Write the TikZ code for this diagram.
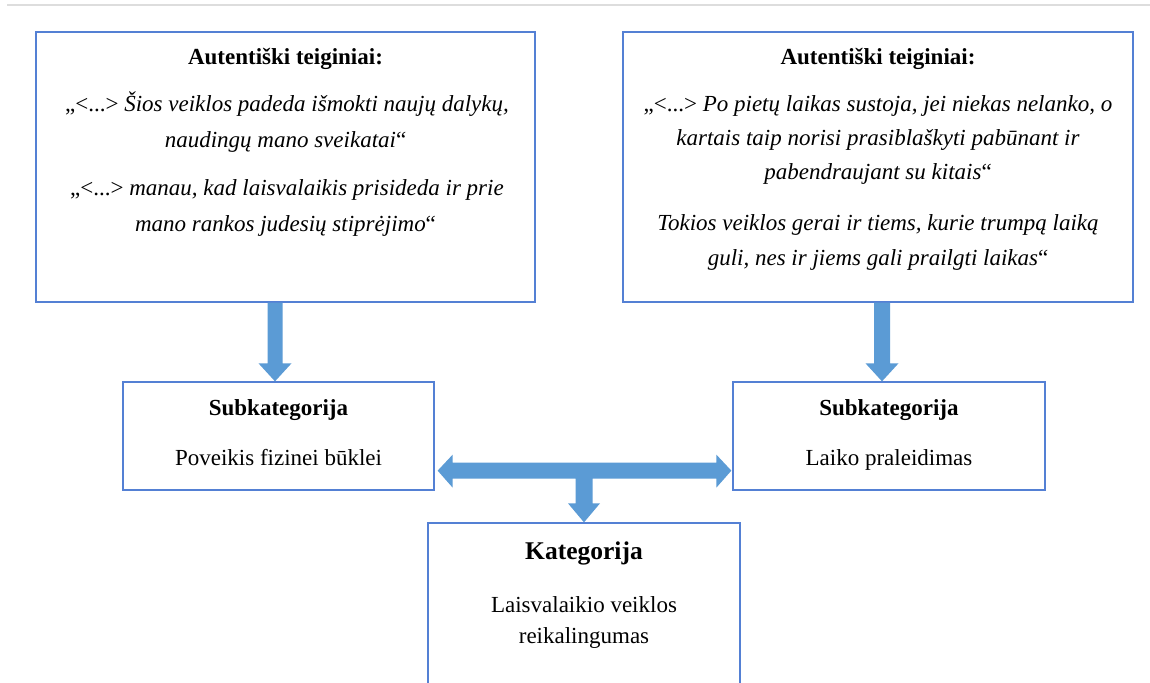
\documentclass[tikz,border=0pt]{standalone}
\usepackage{fontspec}
\setmainfont{Liberation Serif}
\usetikzlibrary{calc}
\definecolor{boxblue}{RGB}{84,128,212}
\definecolor{arrblue}{RGB}{91,155,213}
\definecolor{rulegray}{RGB}{221,221,221}
\tikzset{
  box/.style={draw=boxblue, line width=1.3pt, fill=white, inner sep=0pt, rectangle},
  txt/.style={anchor=base, inner sep=0pt, font=\fontsize{23}{27}\selectfont},
  ttl/.style={txt, font=\fontsize{23}{27}\selectfont\bfseries},
  bigttl/.style={txt, font=\fontsize{25.5}{30}\selectfont\bfseries},
  arr/.style={fill=arrblue, draw=none}
}
\begin{document}
\begin{tikzpicture}[x=1pt, y=-1pt]
\path[use as bounding box, clip] (0,0) rectangle (1150,682);
\fill[white] (0,0) rectangle (1150,682);
\draw[rulegray, line width=2pt] (7,5) -- (1150,5);

% boxes
\node[box, minimum width=499pt, minimum height=270pt] (lt) at (285.5,167) {};
\node[box, minimum width=510pt, minimum height=270pt] (rt) at (878,167) {};
\node[box, minimum width=311pt, minimum height=108pt] (ls) at (278.5,436) {};
\node[box, minimum width=312pt, minimum height=108pt] (rs) at (889,436) {};
\node[box, minimum width=312pt, minimum height=200pt] (kat) at (584,623) {};

% left top text
\node[ttl] (lt0) at (285.5,65) {Autentiški teiginiai:};
\node[txt] (lt1) at (287,111) {„<...> \textit{Šios veiklos padeda išmokti naujų dalykų,}};
\node[txt] (lt2) at (285.5,147) {\textit{naudingų mano sveikatai}“};
\node[txt] (lt3) at (287,195) {„<...> \textit{manau, kad laisvalaikis prisideda ir prie}};
\node[txt] (lt4) at (285.5,231) {\textit{mano rankos judesių stiprėjimo}“};

% right top text
\node[ttl] (rt0) at (878,65) {Autentiški teiginiai:};
\node[txt] (rt1) at (878,112) {„<...> \textit{Po pietų laikas sustoja, jei niekas nelanko, o}};
\node[txt] (rt2) at (878,146) {\textit{kartais taip norisi prasiblaškyti pabūnant ir}};
\node[txt] (rt3) at (878,179) {\textit{pabendraujant su kitais}“};
\node[txt] (rt4) at (878,230) {\textit{Tokios veiklos gerai ir tiems, kurie trumpą laiką}};
\node[txt] (rt5) at (878,265) {\textit{guli, nes ir jiems gali prailgti laikas}“};

% sub boxes text
\node[ttl] (ls0) at (278.5,415) {Subkategorija};
\node[txt] (ls1) at (278.5,465) {Poveikis fizinei būklei};
\node[ttl] (rs0) at (889,415) {Subkategorija};
\node[txt] (rs1) at (889,465) {Laiko praleidimas};

% category text
\node[bigttl] (k0) at (584,559) {Kategorija};
\node[txt] (k1) at (584,612) {Laisvalaikio veiklos};
\node[txt] (k2) at (584,643) {reikalingumas};

% down arrows
\coordinate (la1) at ($(ls.north)+(-3.5,0)$);
\coordinate (la0) at (lt.south -| la1);
\fill[arr] ($(la0)+(-7.5,0)$) -- ($(la1)+(-7.5,-18)$) -- ($(la1)+(-16.5,-18)$) -- (la1)
  -- ($(la1)+(16.5,-18)$) -- ($(la1)+(7.5,-18)$) -- ($(la0)+(7.5,0)$) -- cycle;

\coordinate (ra1) at ($(rs.north)+(-7,0)$);
\coordinate (ra0) at (rt.south -| ra1);
\fill[arr] ($(ra0)+(-8,0)$) -- ($(ra1)+(-8,-18)$) -- ($(ra1)+(-16.5,-18)$) -- (ra1)
  -- ($(ra1)+(16.5,-18)$) -- ($(ra1)+(8,-18)$) -- ($(ra0)+(8,0)$) -- cycle;

% T-shaped double arrow
\coordinate (hl) at ($(ls.south east)+(3,-20)$);
\coordinate (hr) at ($(rs.south west)+(-1,-20)$);
\coordinate (kt) at (kat.north);
\fill[arr] (hl) -- ($(hl)+(15,-16)$) -- ($(hl)+(15,-8)$) -- ($(hr)+(-15,-8)$) -- ($(hr)+(-15,-16)$)
  -- (hr) -- ($(hr)+(-15,17)$) -- ($(hr)+(-15,8)$) -- ($(hl -| kt)+(8.5,8)$)
  -- ($(kt)+(8.5,-19)$) -- ($(kt)+(16,-19)$) -- (kt) -- ($(kt)+(-16,-19)$) -- ($(kt)+(-8.5,-19)$)
  -- ($(hl -| kt)+(-8.5,8)$) -- ($(hl)+(15,8)$) -- ($(hl)+(15,17)$) -- cycle;
\end{tikzpicture}
\end{document}
